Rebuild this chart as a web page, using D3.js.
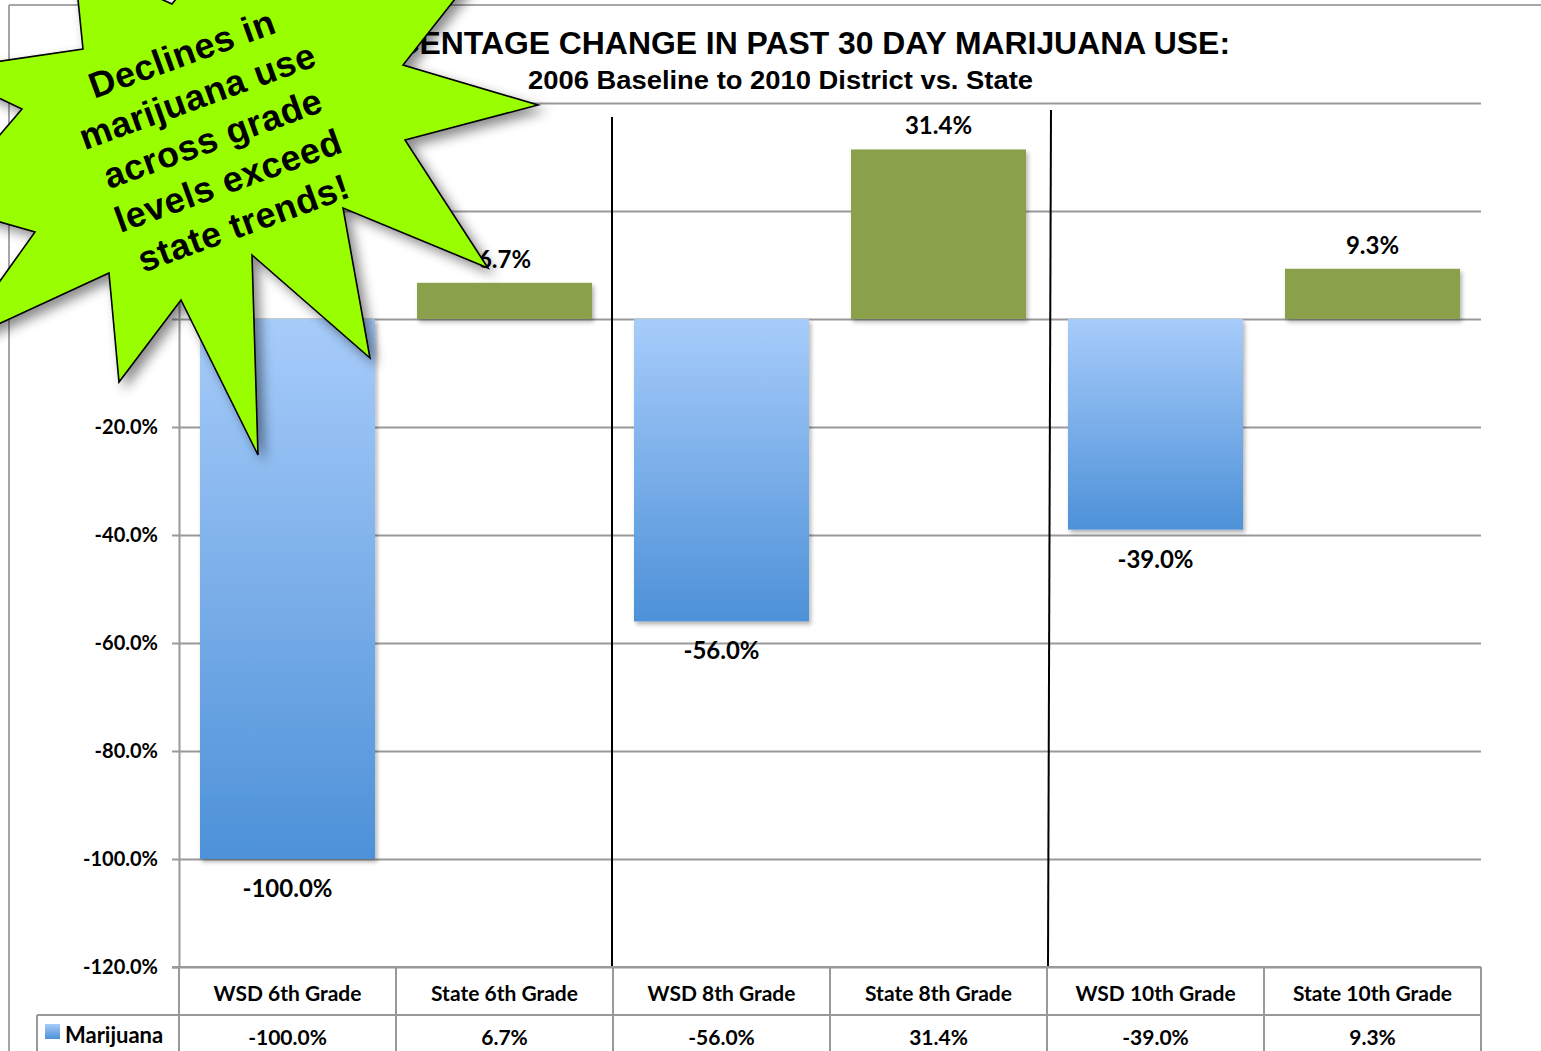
<!DOCTYPE html>
<html>
<head>
<meta charset="utf-8">
<script src="https://cdn.jsdelivr.net/npm/d3@7"></script>
<style>
  body { margin: 0; background: #fff; }
  svg { display: block; }
</style>
</head>
<body>
<div id="chart"></div>
<script>
var categories = ["WSD 6th Grade", "State 6th Grade", "WSD 8th Grade", "State 8th Grade", "WSD 10th Grade", "State 10th Grade"];
var values = [-100.0, 6.7, -56.0, 31.4, -39.0, 9.3];
var yTicks = [40, 20, 0, -20, -40, -60, -80, -100, -120];
var seriesName = "Marijuana";
var titleText = "PERCENTAGE CHANGE IN PAST 30 DAY MARIJUANA USE:";
var subtitleText = "2006 Baseline to 2010 District vs. State";
var calloutLines = ["Declines in", "marijuana use", "across grade", "levels exceed", "state trends!"];

var W = 1541, H = 1051;
var plot = { left: 179, right: 1481, top: 103, bottom: 967 };
var gridColor = "#999";
var labelFont = "Lato, 'Open Sans', sans-serif";

var svg = d3.select("#chart").append("svg")
  .attr("width", W)
  .attr("height", H);

var defs = svg.append("defs");
var grad = defs.append("linearGradient")
  .attr("id", "blueGrad")
  .attr("x1", 0).attr("y1", 0).attr("x2", 0).attr("y2", 1);
grad.append("stop").attr("offset", "0%").attr("stop-color", "#a7ccfa");
grad.append("stop").attr("offset", "100%").attr("stop-color", "#4d91d8");

defs.append("filter").attr("id", "barShadow")
  .attr("x", "-10%").attr("y", "-10%").attr("width", "130%").attr("height", "130%")
  .append("feDropShadow")
  .attr("dx", 2).attr("dy", 3).attr("stdDeviation", 2)
  .attr("flood-color", "#000").attr("flood-opacity", 0.3);

defs.append("filter").attr("id", "starShadow")
  .attr("x", "-20%").attr("y", "-20%").attr("width", "150%").attr("height", "150%")
  .append("feDropShadow")
  .attr("dx", 6).attr("dy", 6).attr("stdDeviation", 6)
  .attr("flood-color", "#000").attr("flood-opacity", 0.45);

// outer frame
svg.append("line")
  .attr("x1", 9).attr("x2", W).attr("y1", 5).attr("y2", 5)
  .attr("stroke", "#a6a6a6").attr("stroke-width", 2);
svg.append("line")
  .attr("x1", 9).attr("x2", 9).attr("y1", 5).attr("y2", H)
  .attr("stroke", "#a6a6a6").attr("stroke-width", 2);

var x = d3.scaleBand()
  .domain(categories)
  .range([plot.left, plot.right])
  .paddingInner(0.1935)
  .paddingOuter(0.0968);

var col = d3.scaleBand()
  .domain(categories)
  .range([plot.left, plot.right]);

var y = d3.scaleLinear()
  .domain([40, -120])
  .range([plot.top, plot.bottom]);

// gridlines
svg.append("g")
  .attr("transform", "translate(" + plot.left + ",0)")
  .call(d3.axisLeft(y).tickValues(yTicks).tickSize(-(plot.right - plot.left)).tickFormat(""))
  .call(function(g) {
    g.select(".domain").remove();
    g.selectAll("line").attr("stroke", gridColor).attr("stroke-width", 2);
  });

// y axis
svg.append("g")
  .attr("transform", "translate(" + plot.left + ",0)")
  .call(d3.axisLeft(y).tickValues(yTicks).tickSize(7).tickPadding(14)
    .tickFormat(function(d) { return d.toFixed(1) + "%"; }))
  .call(function(g) {
    g.select(".domain").attr("stroke", gridColor).attr("stroke-width", 2);
    g.selectAll("line").attr("stroke", gridColor).attr("stroke-width", 2);
    g.selectAll("text")
      .attr("fill", "#000")
      .style("font-family", labelFont)
      .style("font-weight", "bold")
      .style("font-size", "20px");
  });

// title
svg.append("text")
  .attr("x", 331).attr("y", 54)
  .attr("textLength", 899).attr("lengthAdjust", "spacingAndGlyphs")
  .style("font-family", "'Liberation Sans Narrow', 'Arial Narrow', 'Liberation Sans', sans-serif")
  .style("font-weight", "bold").style("font-size", "31px")
  .text(titleText);
svg.append("text")
  .attr("x", 528).attr("y", 89)
  .attr("textLength", 505).attr("lengthAdjust", "spacingAndGlyphs")
  .style("font-family", "'Liberation Sans Narrow', 'Arial Narrow', 'Liberation Sans', sans-serif")
  .style("font-weight", "bold").style("font-size", "25px")
  .text(subtitleText);

var data = categories.map(function(c, i) { return { cat: c, value: values[i], wsd: c.indexOf("WSD") === 0 }; });

// bars
svg.selectAll(".bar")
  .data(data)
  .enter()
  .append("rect")
    .attr("class", "bar")
    .attr("x", function(d) { return x(d.cat); })
    .attr("y", function(d) { return y(Math.max(0, d.value)); })
    .attr("width", x.bandwidth())
    .attr("height", function(d) { return Math.abs(y(d.value) - y(0)); })
    .attr("fill", function(d) { return d.wsd ? "url(#blueGrad)" : "#8aa04b"; })
    .attr("filter", "url(#barShadow)");

// value labels
svg.selectAll(".vlabel")
  .data(data)
  .enter()
  .append("text")
    .attr("x", function(d) { return x(d.cat) + x.bandwidth() / 2; })
    .attr("y", function(d) { return d.value >= 0 ? y(d.value) - 15 : y(d.value) + 38; })
    .attr("text-anchor", "middle")
    .style("font-family", labelFont)
    .style("font-weight", "bold")
    .style("font-size", "24px")
    .text(function(d) { return d.value.toFixed(1) + "%"; });

// separators between grade groups
svg.append("line")
  .attr("x1", x("WSD 8th Grade") - 22).attr("x2", x("WSD 8th Grade") - 22)
  .attr("y1", y(37.4)).attr("y2", plot.bottom + 1)
  .attr("stroke", "#000").attr("stroke-width", 2);
svg.append("line")
  .attr("x1", x("WSD 10th Grade") - 17).attr("x2", x("WSD 10th Grade") - 20)
  .attr("y1", y(38.7)).attr("y2", plot.bottom)
  .attr("stroke", "#000").attr("stroke-width", 2);

// data table
var table = svg.append("g");
var rowTop = plot.bottom, rowMid = 1015, rowBot = 1063;
table.append("line")
  .attr("x1", plot.left - 7).attr("x2", plot.right).attr("y1", rowTop).attr("y2", rowTop)
  .attr("stroke", gridColor).attr("stroke-width", 2);
table.append("line")
  .attr("x1", 37).attr("x2", plot.right).attr("y1", rowMid).attr("y2", rowMid)
  .attr("stroke", gridColor).attr("stroke-width", 2);
table.append("line")
  .attr("x1", 37).attr("x2", 37).attr("y1", rowMid).attr("y2", rowBot)
  .attr("stroke", gridColor).attr("stroke-width", 2);
table.selectAll(".vsep")
  .data(categories)
  .enter()
  .append("line")
    .attr("x1", function(d) { return col(d); })
    .attr("x2", function(d) { return col(d); })
    .attr("y1", rowTop).attr("y2", rowBot)
    .attr("stroke", gridColor).attr("stroke-width", 2);
table.append("line")
  .attr("x1", plot.right).attr("x2", plot.right).attr("y1", rowTop).attr("y2", rowBot)
  .attr("stroke", gridColor).attr("stroke-width", 2);

table.selectAll(".hdr")
  .data(categories)
  .enter()
  .append("text")
    .attr("x", function(d) { return col(d) + col.bandwidth() / 2; })
    .attr("y", 1001)
    .attr("text-anchor", "middle")
    .style("font-family", labelFont)
    .style("font-weight", "bold")
    .style("font-size", "21px")
    .text(function(d) { return d; });

table.selectAll(".cell")
  .data(data)
  .enter()
  .append("text")
    .attr("x", function(d) { return col(d.cat) + col.bandwidth() / 2; })
    .attr("y", 1045)
    .attr("text-anchor", "middle")
    .style("font-family", labelFont)
    .style("font-weight", "bold")
    .style("font-size", "21px")
    .text(function(d) { return d.value.toFixed(1) + "%"; });

table.append("rect")
  .attr("x", 45).attr("y", 1024).attr("width", 15).attr("height", 15)
  .attr("fill", "url(#blueGrad)");
table.append("text")
  .attr("x", 65).attr("y", 1043)
  .style("font-family", labelFont)
  .style("font-weight", "bold")
  .style("font-size", "22px")
  .text(seriesName);

// callout starburst
var starPts = [
  [470, -20], [403, 65], [538, 105], [405, 140], [488, 268], [343, 208],
  [370, 358], [252, 255], [258, 455], [181, 300], [119, 382], [109, 273],
  [-45, 344], [35, 232], [-60, 205], [22, 109], [-60, 70], [83, 49],
  [74, -40], [172, 4], [240, -80], [330, -30]
];
svg.append("polygon")
  .attr("points", starPts.map(function(p) { return p.join(","); }).join(" "))
  .attr("fill", "#99ff00")
  .attr("stroke", "#000")
  .attr("stroke-width", 1.6)
  .attr("stroke-linejoin", "miter")
  .attr("filter", "url(#starShadow)");

var callout = svg.append("g")
  .attr("transform", "translate(217,150) rotate(-20)");
callout.selectAll("text")
  .data(calloutLines)
  .enter()
  .append("text")
    .attr("x", 0)
    .attr("y", function(d, i) { return (i - 2) * 45; })
    .attr("text-anchor", "middle")
    .style("font-family", "'Liberation Sans', Arial, sans-serif")
    .style("font-weight", "bold")
    .style("font-size", "36px")
    .style("letter-spacing", "0.5px")
    .text(function(d) { return d; });
</script>
</body>
</html>
